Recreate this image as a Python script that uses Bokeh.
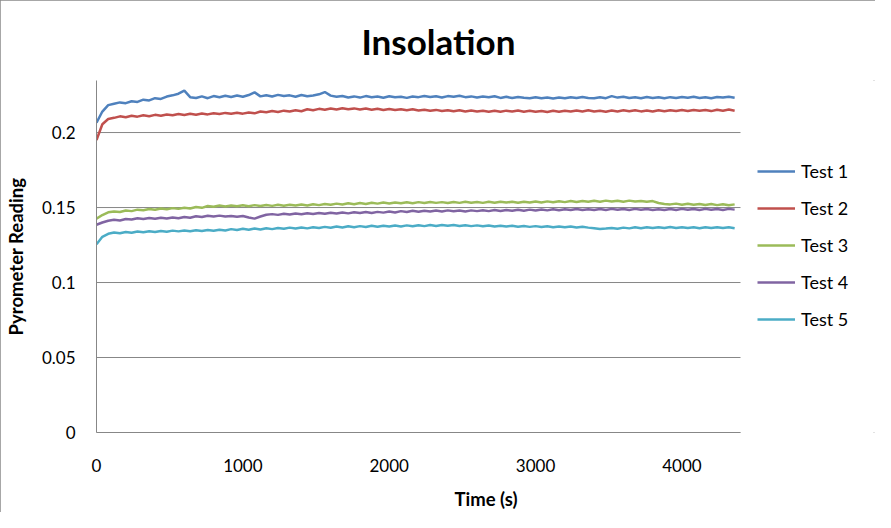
from bokeh.plotting import figure
from bokeh.models import FixedTicker, CustomJSTickFormatter, Legend, LegendItem, Range1d
from bokeh.embed import file_html
from bokeh.resources import INLINE

times = list(range(0, 4400, 40))

test1 = [0.2065, 0.2140, 0.2183, 0.2192, 0.2201, 0.2196, 0.2209, 0.2204, 0.2219, 0.2214,
         0.2229, 0.2224, 0.2240, 0.2248, 0.2259, 0.2279, 0.2236, 0.2230, 0.2241, 0.2229,
         0.2243, 0.2235, 0.2245, 0.2237, 0.2247, 0.2239, 0.2250, 0.2268, 0.2241, 0.2249,
         0.2240, 0.2251, 0.2243, 0.2248, 0.2239, 0.2250, 0.2242, 0.2247, 0.2255, 0.2270,
         0.2246, 0.2238, 0.2244, 0.2234, 0.2241, 0.2233, 0.2243, 0.2236, 0.2240, 0.2232,
         0.2242, 0.2235, 0.2239, 0.2231, 0.2240, 0.2236, 0.2244, 0.2237, 0.2242, 0.2234,
         0.2243, 0.2238, 0.2245, 0.2236, 0.2241, 0.2233, 0.2240, 0.2235, 0.2242, 0.2231,
         0.2238, 0.2230, 0.2237, 0.2232, 0.2229, 0.2235, 0.2228, 0.2233, 0.2227, 0.2234,
         0.2229, 0.2236, 0.2230, 0.2237, 0.2231, 0.2228, 0.2235, 0.2229, 0.2243, 0.2233,
         0.2238, 0.2230, 0.2236, 0.2229, 0.2237, 0.2231, 0.2235, 0.2228, 0.2236, 0.2230,
         0.2237, 0.2232, 0.2238, 0.2231, 0.2236, 0.2229, 0.2237, 0.2233, 0.2238, 0.2232]

test2 = [0.1950, 0.2055, 0.2090, 0.2098, 0.2108, 0.2102, 0.2112, 0.2106, 0.2115, 0.2109,
         0.2118, 0.2112, 0.2120, 0.2115, 0.2123, 0.2117, 0.2125, 0.2119, 0.2127, 0.2121,
         0.2129, 0.2123, 0.2131, 0.2125, 0.2132, 0.2126, 0.2134, 0.2128, 0.2140, 0.2135,
         0.2143, 0.2137, 0.2146, 0.2140, 0.2148, 0.2142, 0.2155, 0.2149, 0.2158, 0.2152,
         0.2160, 0.2154, 0.2162, 0.2155, 0.2161, 0.2153, 0.2160, 0.2152, 0.2158, 0.2150,
         0.2157, 0.2151, 0.2156, 0.2149, 0.2155, 0.2147, 0.2152, 0.2145, 0.2151, 0.2143,
         0.2149, 0.2142, 0.2148, 0.2141, 0.2147, 0.2140, 0.2146, 0.2139, 0.2145, 0.2138,
         0.2146, 0.2140, 0.2147, 0.2139, 0.2145, 0.2138, 0.2144, 0.2137, 0.2145, 0.2139,
         0.2146, 0.2140, 0.2147, 0.2141, 0.2148, 0.2140, 0.2146, 0.2139, 0.2147, 0.2141,
         0.2148, 0.2142, 0.2149, 0.2141, 0.2147, 0.2140, 0.2148, 0.2142, 0.2149, 0.2143,
         0.2150, 0.2144, 0.2151, 0.2145, 0.2150, 0.2143, 0.2152, 0.2146, 0.2153, 0.2145]

test3 = [0.1425, 0.1450, 0.1468, 0.1474, 0.1470, 0.1480, 0.1476, 0.1486, 0.1482, 0.1490,
         0.1485, 0.1493, 0.1488, 0.1496, 0.1491, 0.1498, 0.1493, 0.1503, 0.1498, 0.1510,
         0.1505, 0.1513, 0.1507, 0.1514, 0.1508, 0.1515, 0.1509, 0.1516, 0.1510, 0.1517,
         0.1511, 0.1518, 0.1512, 0.1519, 0.1513, 0.1520, 0.1514, 0.1522, 0.1516, 0.1524,
         0.1518, 0.1526, 0.1520, 0.1528, 0.1522, 0.1530, 0.1524, 0.1532, 0.1526, 0.1533,
         0.1527, 0.1534, 0.1528, 0.1535, 0.1529, 0.1536, 0.1530, 0.1537, 0.1531, 0.1536,
         0.1530, 0.1537, 0.1531, 0.1538, 0.1532, 0.1537, 0.1531, 0.1538, 0.1532, 0.1539,
         0.1533, 0.1538, 0.1532, 0.1539, 0.1533, 0.1540, 0.1534, 0.1541, 0.1535, 0.1542,
         0.1536, 0.1543, 0.1537, 0.1544, 0.1538, 0.1545, 0.1539, 0.1546, 0.1540, 0.1545,
         0.1539, 0.1546, 0.1540, 0.1544, 0.1538, 0.1543, 0.1530, 0.1524, 0.1521, 0.1526,
         0.1519, 0.1525, 0.1518, 0.1524, 0.1517, 0.1523, 0.1516, 0.1522, 0.1515, 0.1521]

test4 = [0.1385, 0.1400, 0.1412, 0.1418, 0.1414, 0.1424, 0.1420, 0.1428, 0.1423, 0.1430,
         0.1425, 0.1432, 0.1427, 0.1434, 0.1429, 0.1437, 0.1432, 0.1442, 0.1437, 0.1445,
         0.1440, 0.1446, 0.1440, 0.1444, 0.1439, 0.1443, 0.1433, 0.1426, 0.1440, 0.1452,
         0.1456, 0.1451, 0.1458, 0.1453, 0.1460, 0.1455, 0.1462, 0.1457, 0.1464, 0.1458,
         0.1465, 0.1460, 0.1467, 0.1461, 0.1468, 0.1463, 0.1470, 0.1464, 0.1471, 0.1466,
         0.1473, 0.1467, 0.1476, 0.1470, 0.1478, 0.1472, 0.1479, 0.1473, 0.1480, 0.1474,
         0.1481, 0.1475, 0.1480, 0.1474, 0.1481, 0.1476, 0.1482, 0.1476, 0.1483, 0.1477,
         0.1484, 0.1478, 0.1485, 0.1479, 0.1486, 0.1480, 0.1487, 0.1481, 0.1488, 0.1482,
         0.1489, 0.1483, 0.1490, 0.1484, 0.1489, 0.1483, 0.1490, 0.1484, 0.1491, 0.1485,
         0.1490, 0.1484, 0.1491, 0.1485, 0.1490, 0.1484, 0.1489, 0.1483, 0.1490, 0.1484,
         0.1491, 0.1485, 0.1490, 0.1484, 0.1491, 0.1485, 0.1490, 0.1484, 0.1491, 0.1486]

test5 = [0.1255, 0.1305, 0.1325, 0.1333, 0.1328, 0.1337, 0.1332, 0.1340, 0.1335, 0.1342,
         0.1337, 0.1344, 0.1339, 0.1346, 0.1341, 0.1347, 0.1342, 0.1348, 0.1343, 0.1350,
         0.1345, 0.1352, 0.1347, 0.1356, 0.1350, 0.1358, 0.1352, 0.1360, 0.1354, 0.1362,
         0.1356, 0.1364, 0.1358, 0.1366, 0.1360, 0.1367, 0.1361, 0.1369, 0.1363, 0.1371,
         0.1365, 0.1373, 0.1367, 0.1375, 0.1369, 0.1376, 0.1370, 0.1378, 0.1372, 0.1379,
         0.1373, 0.1380, 0.1374, 0.1381, 0.1375, 0.1382, 0.1376, 0.1383, 0.1377, 0.1384,
         0.1378, 0.1383, 0.1377, 0.1382, 0.1376, 0.1381, 0.1375, 0.1380, 0.1374, 0.1379,
         0.1373, 0.1378, 0.1372, 0.1377, 0.1371, 0.1376, 0.1370, 0.1375, 0.1369, 0.1374,
         0.1368, 0.1373, 0.1367, 0.1372, 0.1366, 0.1362, 0.1357, 0.1360, 0.1364, 0.1359,
         0.1366, 0.1361, 0.1368, 0.1362, 0.1369, 0.1363, 0.1369, 0.1364, 0.1370, 0.1364,
         0.1369, 0.1363, 0.1368, 0.1362, 0.1368, 0.1363, 0.1369, 0.1363, 0.1368, 0.1362]

series_names = ["Test 1", "Test 2", "Test 3", "Test 4", "Test 5"]
series_values = [test1, test2, test3, test4, test5]
colors = ["#4F81BD", "#C0504D", "#9BBB59", "#8064A2", "#4BACC6"]

x_ticks = [0, 1000, 2000, 3000, 4000]
y_ticks = [0, 0.05, 0.1, 0.15, 0.2]
x_min, x_max = 0, 4400
y_min, y_max = 0, 0.2347

FONT = "Lato"
GRID = "#878787"

# layout geometry (pixels in the figure)
W, H = 875, 512
LEFT, TOP, BOTTOM = 96, 80, 80
DATA_RIGHT = 740          # where x_max must sit; the frame continues to the figure edge
frame_w = W - LEFT
x_view_end = x_min + (x_max - x_min) * frame_w / (DATA_RIGHT - LEFT)

p = figure(width=W, height=H, output_backend="svg", toolbar_location=None,
           x_range=Range1d(x_min, x_view_end), y_range=Range1d(y_min, y_max),
           min_border_left=LEFT, min_border_right=0, min_border_top=TOP,
           min_border_bottom=BOTTOM, title="Insolation")
p.styles = {"outline": "2px solid #8a8a8a", "outline-offset": "-2px"}

p.title.text_font = FONT
p.title.text_font_size = "35px"
p.title.text_font_style = "bold"
p.title.text_color = "#000000"
p.title.align = "left"
p.title.vertical_align = "middle"
p.title.offset = 265
p.title.standoff = 35

p.outline_line_color = None
p.background_fill_color = "white"
p.border_fill_color = "white"
p.xgrid.grid_line_color = None
p.ygrid.grid_line_color = None

# horizontal gridlines limited to the data extent
p.segment(x0=[x_min] * len(y_ticks), x1=[x_max] * len(y_ticks), y0=y_ticks, y1=y_ticks,
          line_color=GRID, line_width=1)

p.xaxis.ticker = FixedTicker(ticks=x_ticks)
p.yaxis.ticker = FixedTicker(ticks=y_ticks)
p.yaxis.formatter = CustomJSTickFormatter(code="return tick.toString();")
p.xaxis.bounds = (x_min, x_max)

for ax in (p.xaxis[0], p.yaxis[0]):
    ax.axis_line_color = GRID
    ax.axis_line_width = 1
    ax.major_tick_line_color = None
    ax.minor_tick_line_color = None
    ax.major_tick_out = 0
    ax.major_tick_in = 0
    ax.major_label_text_font = FONT
    ax.major_label_text_font_size = "17px"
    ax.major_label_text_color = "#000000"
    ax.axis_label_text_font = FONT
    ax.axis_label_text_font_size = "18.5px"
    ax.axis_label_text_font_style = "bold"
    ax.axis_label_text_color = "#000000"

p.xaxis.axis_label = "Time (s)"
p.yaxis.axis_label = "Pyrometer Reading"
p.xaxis.major_label_standoff = 26
p.yaxis.major_label_standoff = 21
p.xaxis.axis_label_standoff = 13
p.yaxis.axis_label_standoff = 12

items = []
for name, vals, col in zip(series_names, series_values, colors):
    r = p.line(times, vals, line_color=col, line_width=2.5)
    items.append(LegendItem(label=name, renderers=[r]))

legend = Legend(items=items, location=(661, 102), orientation="vertical")
legend.background_fill_alpha = 0
legend.border_line_color = None
legend.margin = 0
legend.padding = 0
legend.spacing = 15
legend.glyph_width = 38
legend.glyph_height = 22
legend.label_height = 22
legend.label_standoff = 6
legend.label_text_font = FONT
legend.label_text_font_size = "18px"
legend.label_text_color = "#000000"
p.add_layout(legend, "center")

open("out.html", "w").write(file_html(p, INLINE))
